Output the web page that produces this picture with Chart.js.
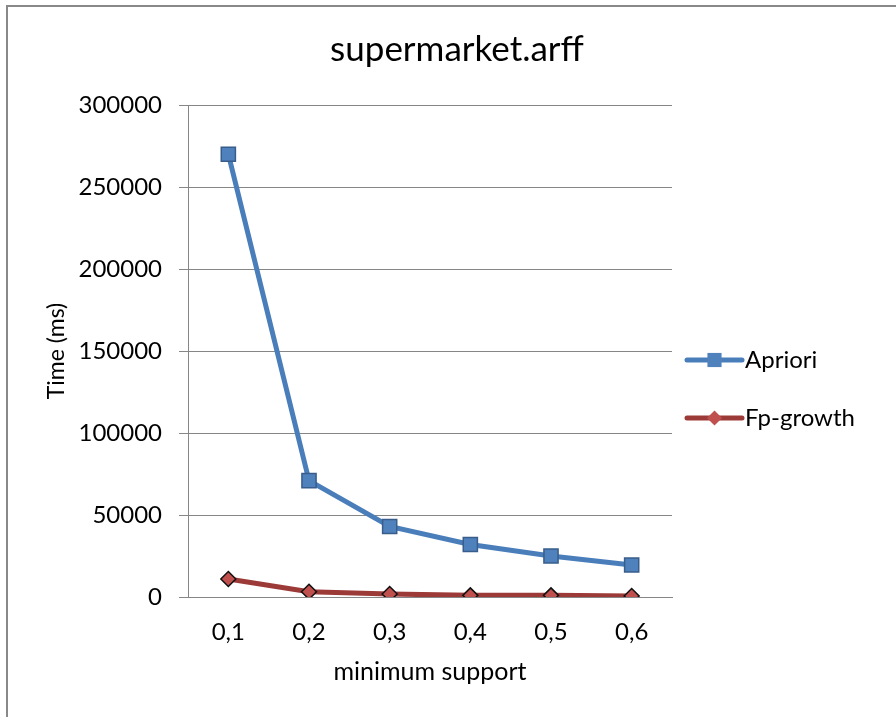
<!DOCTYPE html>
<html>
<head>
<meta charset="utf-8">
<script src="https://cdn.jsdelivr.net/npm/chart.js@4.4.1/dist/chart.umd.min.js"></script>
<style>
  html, body { margin: 0; padding: 0; background: #fff; overflow: hidden; }
  #wrap { position: relative; width: 896px; height: 717px; }
  #frame {
    position: absolute; left: 6px; top: 5px; width: 2000px; height: 2000px;
    border-left: 2px solid #898989; border-top: 2px solid #898989;
    pointer-events: none;
  }
  canvas { position: absolute; left: 0; top: 0; }
</style>
</head>
<body>
<div id="wrap">
  <canvas id="timeChart" width="896" height="717"></canvas>
  <div id="frame"></div>
</div>
<script>
const chartTitle = "supermarket.arff";
const xTitle = "minimum support";
const yTitle = "Time (ms)";
const supportLabels = ["0,1", "0,2", "0,3", "0,4", "0,5", "0,6"];
const aprioriTimes = [270000, 71000, 43000, 32000, 25000, 19500];
const fpGrowthTimes = [11000, 3200, 1800, 1000, 1000, 600];
const yTicks = [0, 50000, 100000, 150000, 200000, 250000, 300000];

const fontFamily = "Lato, 'Open Sans', sans-serif";
const gridGrey = "#868686";

// excel style title + legend (line with marker), drawn after the chart
const excelBits = {
  id: "excelBits",
  afterDraw(chart) {
    const { ctx, chartArea } = chart;
    ctx.save();
    ctx.fillStyle = "#000";
    ctx.font = "35px " + fontFamily;
    ctx.textAlign = "center";
    ctx.textBaseline = "alphabetic";
    ctx.fillText(chartTitle, 457, 61);

    const x0 = chartArea.right + 15;
    const x1 = x0 + 55;
    chart.data.datasets.forEach((ds, i) => {
      const y = 360 + i * 58;
      ctx.strokeStyle = ds.borderColor;
      ctx.lineWidth = ds.borderWidth;
      ctx.lineCap = "round";
      ctx.beginPath();
      ctx.moveTo(x0, y);
      ctx.lineTo(x1, y);
      ctx.stroke();
      ctx.fillStyle = ds.pointBackgroundColor;
      ctx.strokeStyle = ds.pointBorderColor;
      ctx.lineWidth = ds.pointBorderWidth;
      Chart.helpers.drawPoint(ctx, { pointStyle: ds.pointStyle, radius: ds.pointRadius, rotation: 0 }, (x0 + x1) / 2, y);
      ctx.fillStyle = "#000";
      ctx.font = "24px " + fontFamily;
      ctx.textAlign = "left";
      ctx.textBaseline = "middle";
      ctx.fillText(ds.label, x1 + 3, y);
    });
    ctx.restore();
  },
};

new Chart(document.getElementById("timeChart").getContext("2d"), {
  type: "line",
  data: {
    labels: supportLabels,
    datasets: [
      {
        label: "Apriori",
        data: aprioriTimes,
        borderColor: "#4A7EBB",
        borderWidth: 5,
        pointStyle: "rect",
        pointRadius: 10,
        pointBackgroundColor: "#4F81BD",
        pointBorderColor: "#385D8A",
        pointBorderWidth: 1.5,
        tension: 0,
      },
      {
        label: "Fp-growth",
        data: fpGrowthTimes,
        borderColor: "#9C3A38",
        borderWidth: 5,
        pointStyle: "rectRot",
        pointRadius: 7.5,
        pointBackgroundColor: "#C0504D",
        pointBorderColor: "#111",
        pointBorderWidth: 1.5,
        tension: 0,
      },
    ],
  },
  options: {
    responsive: false,
    animation: false,
    layout: { padding: { left: 0, top: 105, right: 224, bottom: 0 } },
    plugins: {
      legend: { display: false },
      title: { display: false },
      tooltip: { enabled: false },
    },
    scales: {
      x: {
        offset: true,
        grid: { display: false, drawTicks: false },
        border: { display: true, color: gridGrey, width: 1 },
        ticks: { color: "#000", font: { family: fontFamily, size: 24 }, padding: 21 },
        title: {
          display: true,
          text: xTitle,
          color: "#000",
          font: { family: fontFamily, size: 25 },
          padding: { top: 0, bottom: 30 },
        },
        afterFit: (scale) => { scale.height = 120; },
      },
      y: {
        min: 0,
        max: 300000,
        afterBuildTicks: (scale) => { scale.ticks = yTicks.map((v) => ({ value: v })); },
        grid: { color: gridGrey, lineWidth: 1, tickLength: 9, drawTicks: true },
        border: { display: true, color: gridGrey, width: 1 },
        ticks: {
          color: "#000",
          font: { family: fontFamily, size: 24 },
          padding: 17,
          callback: (v) => String(v),
        },
        title: {
          display: true,
          text: yTitle,
          color: "#000",
          font: { family: fontFamily, size: 23 },
          padding: { top: 43, bottom: 0 },
        },
        afterFit: (scale) => { scale.width = 188; },
      },
    },
  },
  plugins: [excelBits],
});
</script>
</body>
</html>
